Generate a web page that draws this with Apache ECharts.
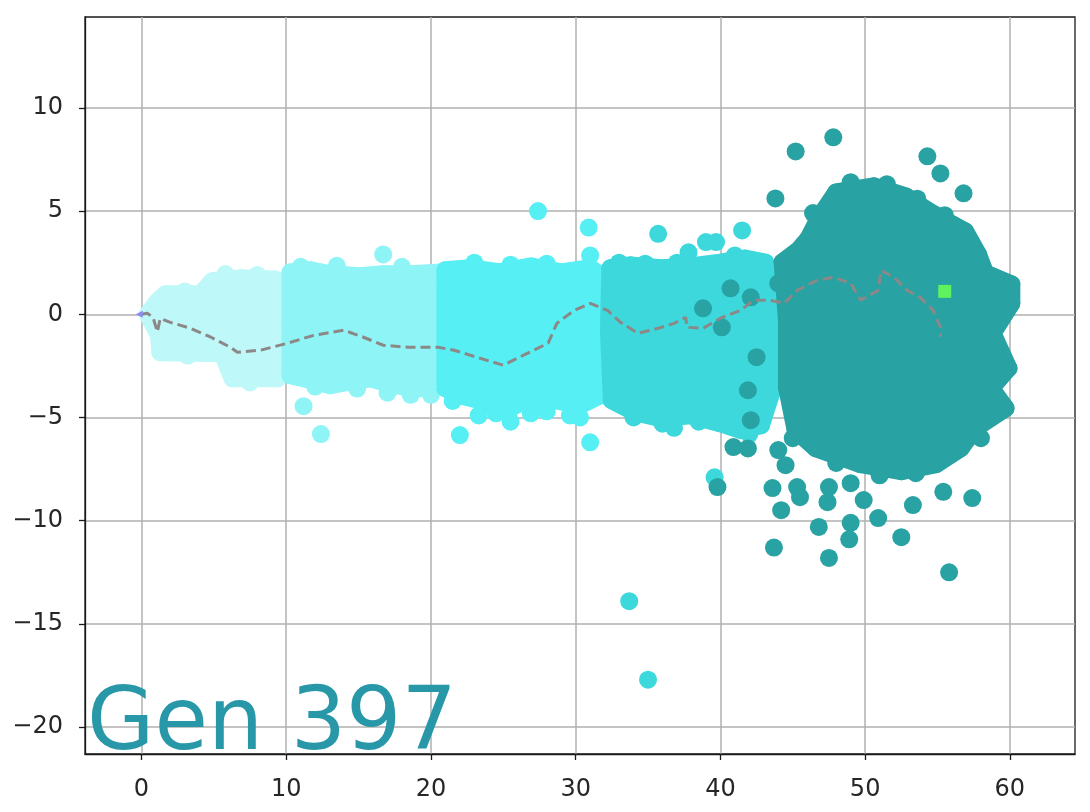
<!DOCTYPE html>
<html>
<head>
<meta charset="utf-8">
<script src="https://cdn.jsdelivr.net/npm/echarts@6/dist/echarts.min.js"></script>
<style>
  html, body { margin: 0; padding: 0; background: #fff; }
  #main { width: 1090px; height: 812px; }
</style>
</head>
<body>
<div id="main"></div>
<script>
// axis extents
var xRange = [-3.9, 64.5];
var yRange = [-21.3, 14.4];

// outline (marker centres) of each dense generation cloud, plus loose / edge points
var genA = [[0.45,0],[1.1,0.6],[1.66,0.97],[4.08,0.97],[4.9,1.6],[6.84,1.74],[9.26,1.69],[9.4,-0.77],[9.4,-3.1],[6.3,-3.1],[5.6,-1.89],[1.31,-1.84],[1.2,-1.0]];
var genALoose = [[3.0,1.1],[5.8,1.95],[8.0,1.9],[7.5,-3.3],[3.2,-2.0]];
var genB = [[10.3,2.03],[11.7,2.13],[13.06,1.94],[15.1,1.84],[16.7,1.94],[18.6,1.94],[20.7,2.03],[20.7,-2.71],[19.3,-3.58],[17.55,-3.44],[15.8,-3.1],[14.1,-3.29],[13.06,-3.44],[11.7,-3.19],[10.3,-2.95],[10.3,-0.29]];
var genBLoose = [[16.7,2.9],[11.2,-4.45],[12.4,-5.8],[11.0,2.3],[13.5,2.35],[18.0,2.3],[12.0,-3.5],[14.9,-3.6],[17.0,-3.8],[18.6,-3.9],[20.0,-3.9]];
var genC = [[21.0,2.13],[22.7,2.23],[24.8,2.03],[26.9,2.32],[29.0,2.03],[31.0,2.23],[31.7,1.89],[31.7,-3.92],[30.3,-4.4],[28.6,-4.16],[26.5,-4.16],[25.2,-4.65],[23.4,-4.16],[22.0,-3.92],[21.0,-3.58]];
var genCLoose = [[27.4,5.0],[30.9,4.2],[31.0,2.85],[22.0,-5.85],[25.5,-5.2],[30.3,-5.0],[31.0,-6.2],[23.3,-4.9],[26.9,-4.8],[23.0,2.5],[25.5,2.4],[28.0,2.45],[21.5,-4.2],[24.5,-4.8],[28.0,-4.7],[29.6,-4.9]];
var genD = [[32.4,2.23],[33.8,2.37],[35.9,2.23],[37.9,2.32],[40.0,2.5],[41.7,2.7],[43.1,2.5],[43.5,0.68],[43.8,-3.19],[42.8,-5.37],[41.4,-5.6],[40.0,-5.28],[37.9,-4.89],[35.9,-5.03],[34.1,-4.74],[32.5,-4.16],[32.3,-0.77]];
var genDLoose = [[35.7,3.9],[37.8,3.0],[39.0,3.5],[39.7,3.5],[41.5,4.06],[33.7,-13.9],[35.0,-17.7],[39.6,-7.9],[36.8,-5.5],[33.0,2.5],[34.8,2.45],[37.0,2.5],[41.0,2.85],[36.0,-5.3],[38.5,-5.2],[34.0,-5.0],[42.0,-5.8]];
var genE = [[46.1,3.68],[46.8,4.65],[48.0,5.9],[50.6,6.2],[52.8,5.71],[54.4,4.99],[56.9,4.02],[57.8,2.9],[58.3,1.98],[60.1,1.45],[60.1,0.53],[58.8,-0.92],[59.9,-2.61],[58.7,-3.58],[59.7,-4.55],[57.6,-5.52],[56.6,-6.49],[54.9,-7.26],[52.5,-7.6],[49.7,-7.26],[46.6,-6.49],[45.2,-5.61],[44.6,-3.53],[44.6,-0.29],[44.3,2.52],[45.4,3.1]];
var genELoose = [[47.8,8.57],[45.2,7.89],[54.3,7.65],[55.2,6.82],[56.8,5.86],[43.8,5.61],[44.0,-6.58],[44.5,-7.31],[43.6,-8.42],[44.2,-9.49],[45.3,-8.37],[45.5,-8.86],[47.5,-8.37],[47.4,-9.1],[49.0,-8.18],[49.9,-9.0],[46.8,-10.3],[49.0,-10.1],[48.9,-10.9],[50.9,-9.87],[53.3,-9.24],[55.4,-8.6],[57.4,-8.9],[52.5,-10.8],[47.5,-11.8],[43.7,-11.3],[55.8,-12.5],
  [40.7,1.26],[38.8,0.29],[40.1,-0.63],[42.1,0.82],[42.5,-2.08],[41.9,-3.68],[42.1,-5.13],[40.9,-6.43],[41.9,-6.5],[39.8,-8.37],
  [49.0,6.4],[51.5,6.3],[53.6,5.6],[55.5,4.8],[57.3,3.5],[59.0,-1.5],[58.0,-6.0],[53.5,-7.7],[51.0,-7.8],[48.0,-7.2],[45.0,-6.0],[46.4,4.9],[44.0,1.5]];

// best-individual path
var bestPath = [[0,0],[0.4,0.05],[0.8,-0.15],[1.1,-0.85],[1.3,-0.2],[2.0,-0.39],[3.39,-0.68],[4.77,-1.1],[6.15,-1.6],[6.63,-1.84],[8.22,-1.74],[10.1,-1.4],[11.9,-1.02],[13.96,-0.77],[15.3,-1.1],[16.7,-1.5],[18.4,-1.6],[20.5,-1.6],[21.6,-1.74],[23.4,-2.13],[25.0,-2.47],[26.4,-1.98],[28.1,-1.4],[28.7,-0.44],[29.9,0.19],[31.0,0.53],[32.2,0.19],[33.1,-0.39],[34.3,-0.92],[35.7,-0.68],[36.8,-0.44],[37.6,-0.15],[37.7,-0.63],[38.8,-0.68],[40.0,-0.19],[41.4,0.19],[42.3,0.68],[43.4,0.68],[44.4,0.53],[45.3,1.16],[46.7,1.65],[47.8,1.79],[49.0,1.5],[49.7,0.68],[50.9,1.16],[51.1,2.13],[52.0,1.79],[52.9,1.16],[53.8,0.82],[54.7,0.19],[55.2,-0.63],[55.2,-1.1]];
var bestNow = [[55.5,1.11]];
var startPoint = [[-0.15,0]];

var colA = '#bef8f8', colB = '#8ef4f6', colC = '#55eff4', colD = '#3dd8dc', colE = '#28a2a2';
var dot = 18;

function cloud(pts, color, z) {
  return [{
    type: 'custom', z: z, silent: true, data: [[0, 0]],
    renderItem: function (params, api) {
      return {
        type: 'polygon',
        shape: { points: pts.map(function (p) { return api.coord(p); }) },
        style: { fill: color, stroke: color, lineWidth: dot, lineJoin: 'round' }
      };
    }
  }, {
    type: 'scatter', z: z, silent: true, data: pts, symbolSize: dot, itemStyle: { color: color, opacity: 1 }
  }];
}
function loose(pts, color, z) {
  return { type: 'scatter', z: z, silent: true, data: pts, symbolSize: dot, itemStyle: { color: color, opacity: 1 } };
}

var series = [].concat(
  cloud(genA, colA, 2), [loose(genALoose, colA, 2)],
  cloud(genB, colB, 3), [loose(genBLoose, colB, 3)],
  cloud(genC, colC, 4), [loose(genCLoose, colC, 4)],
  cloud(genD, colD, 5), [loose(genDLoose, colD, 5)],
  cloud(genE, colE, 6), [loose(genELoose, colE, 6)],
  [{
    type: 'line', z: 7, silent: true, data: bestPath, symbol: 'none',
    lineStyle: { color: '#8d8888', width: 3, type: [10, 5] }
  }, {
    type: 'scatter', z: 8, silent: true, data: bestNow, symbol: 'rect', symbolSize: 13, itemStyle: { color: '#5ef25e', opacity: 1 }
  }, {
    type: 'scatter', z: 8, silent: true, data: startPoint, symbol: 'triangle', symbolRotate: 90, symbolSize: 7, itemStyle: { color: '#8c8cf0', opacity: 1 }
  }]
);

function minus(v) { return String(v).replace('-', '\u2212'); }

var axisText = { fontFamily: 'DejaVu Sans', fontSize: 24, color: '#262626' };

var chart = echarts.init(document.getElementById('main'));
chart.setOption({
  animation: false,
  backgroundColor: '#fff',
  grid: { left: 85, right: 15, top: 17, bottom: 58, show: true, borderColor: '#1a1a1a', borderWidth: 1.3, backgroundColor: '#fff' },
  xAxis: {
    type: 'value', min: xRange[0], max: xRange[1], splitNumber: 5,
    axisLine: { show: true, onZero: false, lineStyle: { color: '#1a1a1a', width: 1.3 } },
    axisTick: { show: true, length: 6, lineStyle: { color: '#1a1a1a', width: 1.3 } },
    axisLabel: Object.assign({ margin: 24, showMinLabel: false, showMaxLabel: false, formatter: minus }, axisText),
    splitLine: { show: true, showMinLine: false, showMaxLine: false, lineStyle: { color: '#b0b0b0', width: 1.5 } }
  },
  yAxis: {
    type: 'value', min: yRange[0], max: yRange[1], splitNumber: 7,
    axisLine: { show: true, onZero: false, lineStyle: { color: '#1a1a1a', width: 1.3 } },
    axisTick: { show: true, length: 6, lineStyle: { color: '#1a1a1a', width: 1.3 } },
    axisLabel: Object.assign({ margin: 22, showMinLabel: false, showMaxLabel: false, formatter: minus }, axisText),
    splitLine: { show: true, showMinLine: false, showMaxLine: false, lineStyle: { color: '#b0b0b0', width: 1.5 } }
  },
  graphic: [{
    type: 'text', x: 87, y: 726, z: 100, silent: true,
    style: { text: 'Gen 397', font: '87px "DejaVu Sans"', fill: '#2898a9', verticalAlign: 'middle', align: 'left' }
  }],
  series: series
});
</script>
</body>
</html>
